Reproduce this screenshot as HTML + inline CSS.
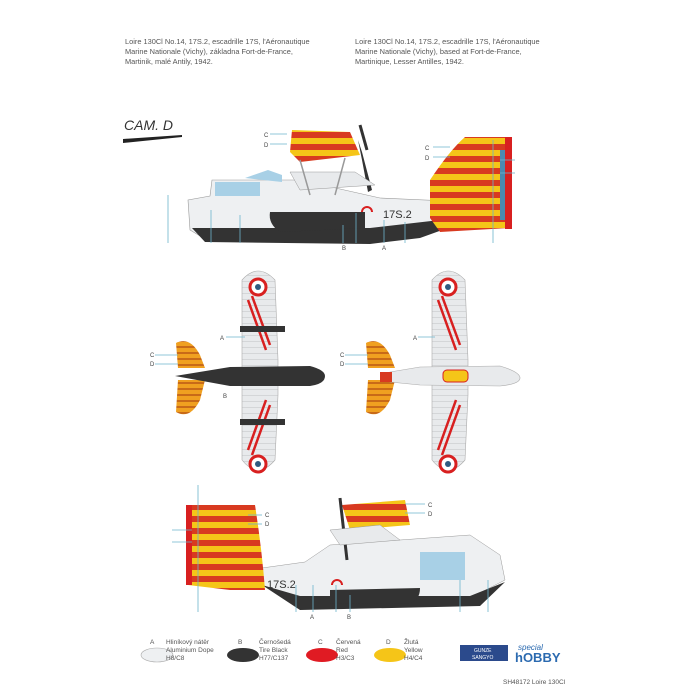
<!DOCTYPE html>
<html><head><meta charset="utf-8"><style>
body{margin:0;background:#fff;}
svg{display:block;font-family:"Liberation Sans",sans-serif;}
</style></head><body>
<svg width="700" height="700" viewBox="0 0 700 700" xmlns="http://www.w3.org/2000/svg">
<defs>
<pattern id="st" width="12" height="12" patternUnits="userSpaceOnUse"><rect width="12" height="12" fill="#f5c518"/><rect width="12" height="6" fill="#d83a20"/></pattern>
<pattern id="sto" width="8" height="6" patternUnits="userSpaceOnUse"><rect width="8" height="6" fill="#f0a020"/><rect y="4" width="8" height="2" fill="#c86a18"/></pattern>
<pattern id="rib" width="6" height="6" patternUnits="userSpaceOnUse"><rect width="6" height="6" fill="#e8eaec"/><rect y="5" width="6" height=".6" fill="#c8cacc"/></pattern>
</defs>
<g font-size="7.4" fill="#555">
<text x="125" y="44">Loire 130Cl No.14, 17S.2, escadrille 17S, l'Aéronautique</text>
<text x="125" y="54">Marine Nationale (Vichy), základna Fort-de-France,</text>
<text x="125" y="64">Martinik, malé Antily, 1942.</text>
<text x="355" y="44">Loire 130Cl No.14, 17S.2, escadrille 17S, l'Aéronautique</text>
<text x="355" y="54">Marine Nationale (Vichy), based at Fort-de-France,</text>
<text x="355" y="64">Martinique, Lesser Antilles, 1942.</text>
</g>
<text x="124" y="130" font-size="14" font-style="italic" fill="#333">CAM. D</text>
<path d="M123 139 L182 135 L182 137 L123 143Z" fill="#222"/>

<!-- top side view -->
<path d="M188 200 L190 230 L200 236 L420 236 L470 220 L470 202 L380 198 L300 180 L212 180 L210 196Z" fill="#eef0f2" stroke="#999" stroke-width=".6"/>
<path d="M192 228 L205 242 L370 244 L420 238 L470 220 L440 220 L370 228 L200 228Z" fill="#333"/>
<path d="M270 212 L365 212 L365 228 L280 232 Q268 224 270 212Z" fill="#333"/>
<path d="M215 182 L260 182 L260 196 L215 196Z" fill="#a8d0e6"/>
<path d="M245 178 L268 170 L282 175 L282 182Z" fill="#a8d0e6"/>
<path d="M430 180 Q450 150 465 137 L505 137 L510 228 L440 232 L430 218Z" fill="url(#st)"/>
<rect x="505" y="137" width="7" height="92" fill="#d82020"/>
<rect x="500" y="150" width="5" height="70" fill="#4a8ab0"/>
<path d="M292 130 L350 132 L360 155 L300 162 L290 152Z" fill="url(#st)"/>
<path d="M358 140 L362 152 L372 190 L368 192 L362 160Z" fill="#333"/>
<path d="M360 125 L367 150" stroke="#333" stroke-width="3"/>
<path d="M290 172 L355 172 L375 185 L300 190Z" fill="#e8eaec" stroke="#999" stroke-width=".5"/>
<path d="M300 160 L310 195 M345 158 L335 195" stroke="#999" stroke-width="1.5"/>
<text x="383" y="218" font-size="11" fill="#333">17S.2</text>
<path d="M362 212 a5 5 0 0 1 10 0" stroke="#d82020" stroke-width="2" fill="none"/>
<g stroke="#6cb4cc" stroke-width=".8">
<line x1="168" y1="195" x2="168" y2="243"/><line x1="211" y1="210" x2="211" y2="243"/><line x1="240" y1="215" x2="240" y2="243"/>
<line x1="343" y1="225" x2="343" y2="243"/><line x1="356" y1="213" x2="356" y2="243"/><line x1="384" y1="220" x2="384" y2="243"/><line x1="405" y1="222" x2="405" y2="243"/><line x1="493" y1="140" x2="493" y2="243"/>
<line x1="270" y1="134" x2="287" y2="134"/><line x1="270" y1="144" x2="287" y2="144"/><line x1="433" y1="147" x2="450" y2="147"/><line x1="433" y1="157" x2="450" y2="157"/><line x1="500" y1="160" x2="515" y2="160"/><line x1="500" y1="173" x2="515" y2="173"/>
</g>
<g font-size="6" fill="#444">
<text x="264" y="137">C</text><text x="264" y="147">D</text><text x="425" y="150">C</text><text x="425" y="160">D</text>
<text x="342" y="250">B</text><text x="382" y="250">A</text>
</g>

<!-- plan views -->
<g id="pv">
<path d="M242 280 Q258 262 275 280 L278 360 L278 395 L275 460 Q258 480 242 460 L242 395 L242 360Z" fill="url(#rib)" stroke="#aaa" stroke-width=".6"/>
<circle cx="258" cy="287" r="8" fill="#fff" stroke="#d82020" stroke-width="3"/><circle cx="258" cy="287" r="3" fill="#2f5b80"/>
<circle cx="258" cy="464" r="8" fill="#fff" stroke="#d82020" stroke-width="3"/><circle cx="258" cy="464" r="3" fill="#2f5b80"/>
<path d="M252 296 L270 345 M248 300 L266 350 M252 455 L270 405 M248 450 L266 400" stroke="#d82020" stroke-width="2.5"/>
<path d="M176 343 Q190 336 200 355 L205 368 L178 368Z" fill="url(#sto)"/>
<path d="M176 412 Q190 420 200 400 L205 380 L178 380Z" fill="url(#sto)"/>
</g>
<path d="M175 376 L230 367 L310 366 Q325 370 325 376 Q325 384 310 386 L230 386Z" fill="#333"/>
<path d="M240 326 L285 326 L285 332 L240 332Z M240 419 L285 419 L285 425 L240 425Z" fill="#333"/>
<use href="#pv" transform="translate(190,0)"/>
<path d="M390 372 L420 367 L500 366 Q520 372 520 378 Q520 384 500 386 L420 385 L390 382Z" fill="#e8eaec" stroke="#aaa" stroke-width=".6"/>
<rect x="443" y="370" width="25" height="12" rx="4" fill="#f5c518" stroke="#d82020"/>
<rect x="380" y="372" width="12" height="10" fill="#d83a20"/>
<g stroke="#6cb4cc" stroke-width=".8">
<line x1="155" y1="355" x2="178" y2="355"/><line x1="155" y1="364" x2="178" y2="364"/><line x1="226" y1="337" x2="245" y2="337"/>
<line x1="345" y1="355" x2="368" y2="355"/><line x1="345" y1="364" x2="368" y2="364"/><line x1="418" y1="337" x2="435" y2="337"/>
</g>
<g font-size="6" fill="#444"><text x="150" y="357">C</text><text x="150" y="366">D</text><text x="220" y="340">A</text><text x="223" y="398">B</text><text x="340" y="357">C</text><text x="340" y="366">D</text><text x="413" y="340">A</text></g>

<!-- bottom side view -->
<path d="M505 580 L500 555 L470 535 L330 545 L305 562 L262 568 L262 585 L300 600 L470 598Z" fill="#eef0f2" stroke="#999" stroke-width=".5"/>
<path d="M262 585 L300 610 L480 606 L505 582 L470 596 L300 596Z" fill="#333"/>
<path d="M330 590 L420 588 Q420 600 410 603 L330 604Z" fill="#333"/>
<path d="M420 552 L465 552 L465 580 L420 580Z" fill="#a8d0e6"/>
<path d="M188 505 L255 505 Q262 550 265 590 L230 590 L188 585Z" fill="url(#st)"/>
<rect x="186" y="505" width="6" height="80" fill="#d82020"/>
<path d="M342 505 L405 500 L410 525 L350 530Z" fill="url(#st)"/>
<path d="M340 498 L347 560" stroke="#333" stroke-width="3"/>
<path d="M330 530 L380 525 L400 540 L340 545Z" fill="#e8eaec" stroke="#999" stroke-width=".5"/>
<text x="267" y="588" font-size="11" fill="#333">17S.2</text>
<path d="M332 585 a5 5 0 0 1 10 0" stroke="#d82020" stroke-width="2" fill="none"/>
<g stroke="#6cb4cc" stroke-width=".8">
<line x1="198" y1="485" x2="198" y2="612"/><line x1="296" y1="585" x2="296" y2="612"/><line x1="313" y1="585" x2="313" y2="612"/><line x1="336" y1="585" x2="336" y2="612"/><line x1="350" y1="595" x2="350" y2="612"/><line x1="460" y1="580" x2="460" y2="612"/><line x1="488" y1="580" x2="488" y2="612"/>
<line x1="172" y1="530" x2="192" y2="530"/><line x1="172" y1="542" x2="192" y2="542"/><line x1="248" y1="515" x2="262" y2="515"/><line x1="248" y1="524" x2="262" y2="524"/><line x1="405" y1="504" x2="425" y2="504"/><line x1="405" y1="513" x2="425" y2="513"/>
</g>
<g font-size="6" fill="#444"><text x="265" y="517">C</text><text x="265" y="526">D</text><text x="428" y="507">C</text><text x="428" y="516">D</text><text x="310" y="619">A</text><text x="347" y="619">B</text></g>

<!-- legend -->
<g font-size="6.5" fill="#555">
<ellipse cx="157" cy="655" rx="16" ry="7" fill="#eef0f2" stroke="#aaa" stroke-width=".6"/>
<text x="150" y="644">A</text><text x="166" y="644">Hliníkový nátěr</text><text x="166" y="652">Aluminium Dope</text><text x="166" y="660">H8/C8</text>
<ellipse cx="243" cy="655" rx="16" ry="7" fill="#333"/>
<text x="238" y="644">B</text><text x="259" y="644">Černošedá</text><text x="259" y="652">Tire Black</text><text x="259" y="660">H77/C137</text>
<ellipse cx="322" cy="655" rx="16" ry="7" fill="#e01b23"/>
<text x="318" y="644">C</text><text x="336" y="644">Červená</text><text x="336" y="652">Red</text><text x="336" y="660">H3/C3</text>
<ellipse cx="390" cy="655" rx="16" ry="7" fill="#f5c518"/>
<text x="386" y="644">D</text><text x="404" y="644">Žlutá</text><text x="404" y="652">Yellow</text><text x="404" y="660">H4/C4</text>
</g>
<rect x="460" y="645" width="48" height="16" fill="#2b4a8c"/>
<text x="474" y="652" font-size="5" fill="#fff">GUNZE</text><text x="472" y="659" font-size="5" fill="#fff">SANGYO</text>
<text x="518" y="650" font-size="8" font-style="italic" fill="#2b6ab0">special</text>
<text x="515" y="662" font-size="13" font-weight="bold" fill="#2b6ab0">hOBBY</text>
<text x="503" y="684" font-size="6.5" fill="#555">SH48172 Loire 130Cl</text>
</svg>
</body></html>
